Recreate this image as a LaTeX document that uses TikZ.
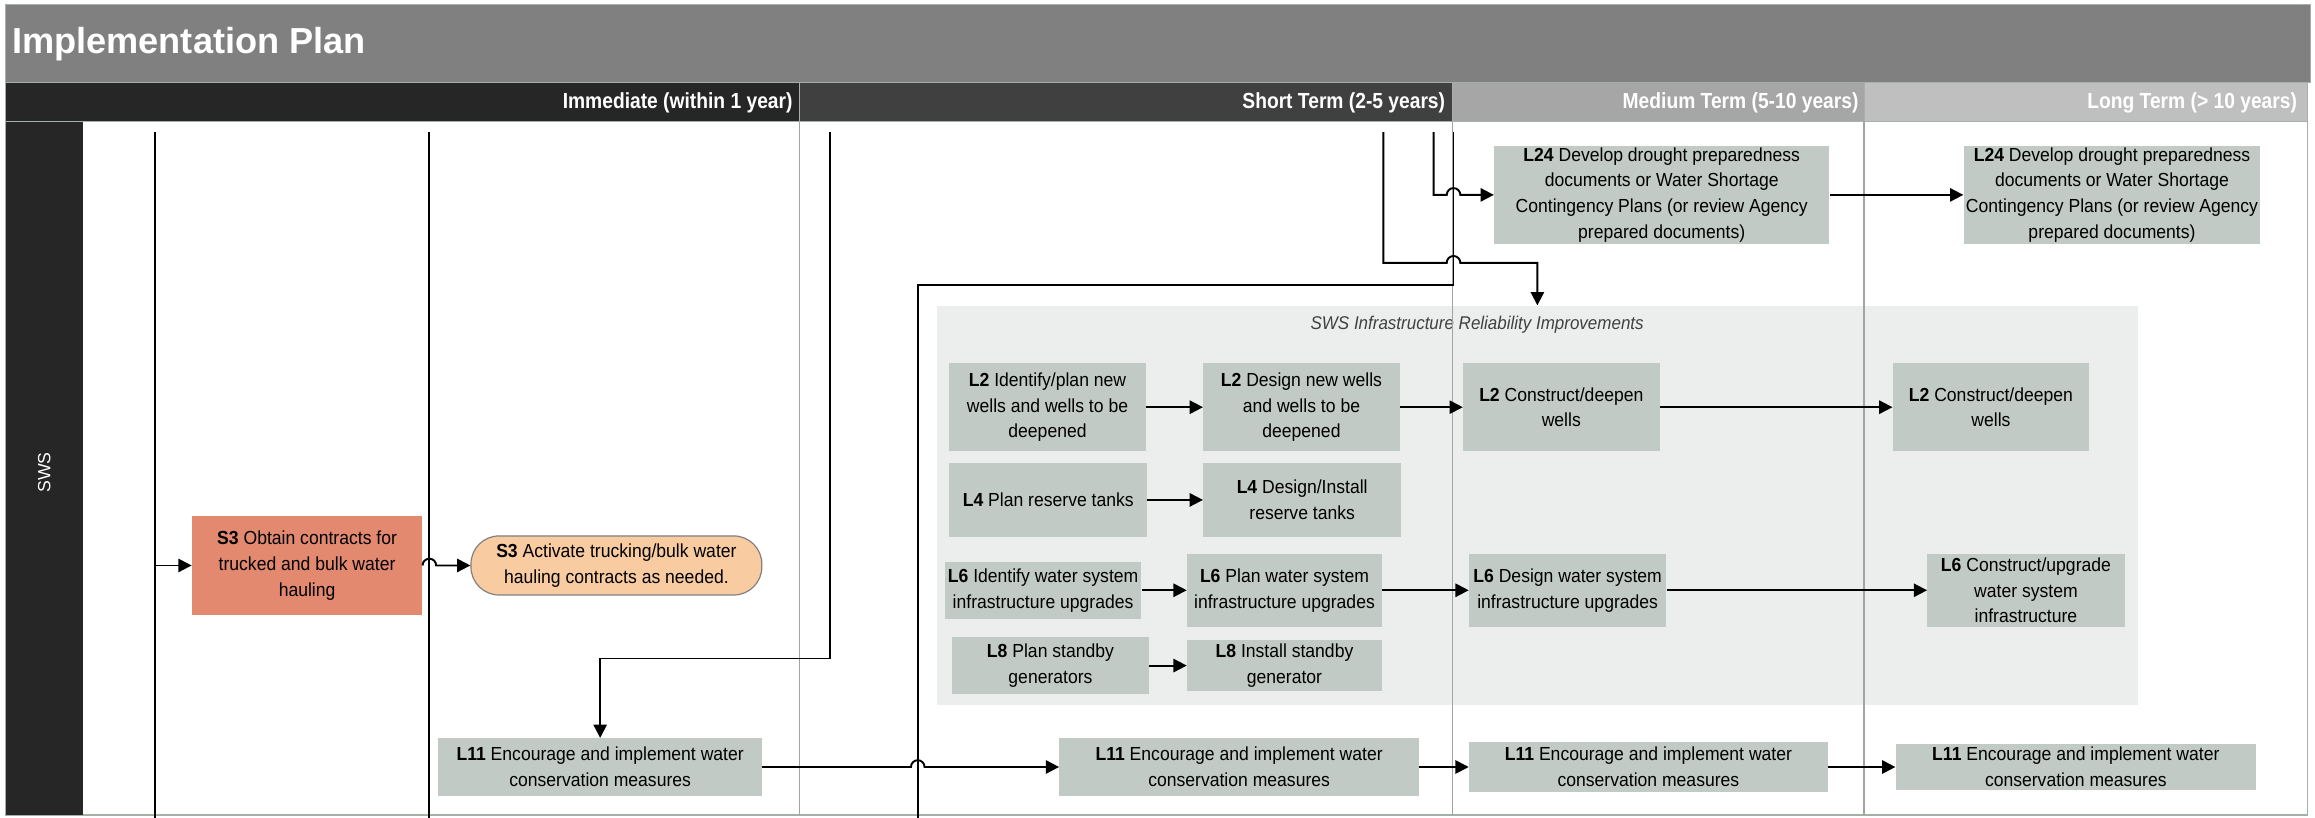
\documentclass[tikz,border=0pt]{standalone}
\usepackage{fontspec}
\setmainfont{Liberation Sans}
\newfontfamily\boxfont{Liberation Sans}[FakeStretch=0.93]
\newfontfamily\hdrfont{Liberation Sans}[FakeStretch=0.88]
\newfontfamily\grpfont{Liberation Sans}[FakeStretch=0.92]
\usetikzlibrary{arrows.meta,calc}
\definecolor{boxc}{RGB}{193,202,197}
\definecolor{grpc}{RGB}{236,238,237}
\definecolor{framec}{RGB}{165,176,169}
\definecolor{divc}{RGB}{160,164,162}
\definecolor{titlec}{RGB}{128,128,128}
\definecolor{hdrA}{RGB}{38,38,38}
\definecolor{hdrB}{RGB}{64,64,64}
\definecolor{hdrC}{RGB}{166,166,166}
\definecolor{hdrD}{RGB}{191,191,191}
\definecolor{salmon}{RGB}{226,137,111}
\definecolor{peach}{RGB}{249,203,160}
\definecolor{grplabel}{RGB}{64,64,64}
\begin{document}
\begin{tikzpicture}[x=1pt,y=-1pt,
  box/.style={fill=boxc, inner sep=1pt, align=center, text=black,
    font=\boxfont\fontsize{12.8}{17.5}\selectfont},
  conn/.style={line width=1.3pt, black},
  arr/.style={conn, -{Triangle[length=9pt,width=9pt]}},
  hdr/.style={anchor=east, text=white, inner sep=0pt,
    font=\hdrfont\bfseries\fontsize{14.8}{16}\selectfont},
  divider/.style={draw=divc, line width=0.8pt},
  cell/.style={draw=framec, line width=0.6pt}]
\useasboundingbox (0,0) rectangle (1568,554);
% title bar
\fill[white] (0,0) rectangle (1568,554);
\draw[cell, fill=titlec] (4,3) rectangle (1565,56);
\node[anchor=base west, inner sep=0pt, text=white,
  font=\bfseries\fontsize{24.5}{28}\selectfont] (title) at (8,36) {Implementation Plan};
% header row
\draw[cell, fill=hdrA] (4,56) rectangle (541.5,82.4);
\draw[cell, fill=hdrB] (541.5,56) rectangle (983.6,82.4);
\draw[cell, fill=hdrC] (983.6,56) rectangle (1262.5,82.4);
\draw[cell, fill=hdrD] (1262.5,56) rectangle (1563,82.4);
\node[hdr] (h1) at (537,69.5) {Immediate (within 1 year)};
\node[hdr] (h2) at (979,69.5) {Short Term (2-5 years)};
\node[hdr] (h3) at (1259,69.5) {Medium Term (5-10 years)};
\node[hdr] (h4) at (1556,69.5) {Long Term (> 10 years)};
% body frame and lane label
\draw[cell] (4,82.4) rectangle (1563,552);
\draw[draw=framec, line width=2pt] (4,552) -- (1563,552);
\fill[hdrA] (4,82.4) rectangle (56,552);
\node[rotate=90, text=white, font=\fontsize{12}{14}\selectfont] (sws) at (30,320) {SWS};
% group
\node[fill=grpc, minimum width=813.4pt, minimum height=270.5pt, inner sep=0pt] (grp) at (1041.3,342.25) {};
\node[font=\grpfont\itshape\fontsize{12.5}{14}\selectfont, text=grplabel, inner sep=0pt] (grplbl) at (1000.5,220) {SWS Infrastructure Reliability Improvements};
% dividers
\draw[divider] (541.5,82.4) -- (541.5,552);
\draw[divider] (983.6,82.4) -- (983.6,552);
\draw[divider] (1262.5,82.4) -- (1262.5,552);
% nodes
\node[box, fill=salmon, minimum width=156pt, minimum height=67pt] (s3a) at (208,383)
  {\textbf{S3} Obtain contracts for\\trucked and bulk water\\hauling};
\node[box, fill=peach, draw=gray, line width=0.8pt, rounded corners=19pt,
  minimum width=197pt, minimum height=40pt] (s3b) at (417.5,383)
  {\textbf{S3} Activate trucking/bulk water\\hauling contracts as needed.};
\node[box, minimum width=219pt, minimum height=39pt] (l11a) at (406.5,519.5)
  {\textbf{L11} Encourage and implement water\\conservation measures};
\node[box, minimum width=243.5pt, minimum height=39pt] (l11b) at (839.3,519.5)
  {\textbf{L11} Encourage and implement water\\conservation measures};
\node[box, minimum width=243pt, minimum height=33.5pt] (l11c) at (1116.5,519.5)
  {\textbf{L11} Encourage and implement water\\conservation measures};
\node[box, minimum width=244pt, minimum height=30.5pt] (l11d) at (1406,519.5)
  {\textbf{L11} Encourage and implement water\\conservation measures};
\node[box, minimum width=227pt, minimum height=66pt] (l24a) at (1125.5,132)
  {\textbf{L24} Develop drought preparedness\\documents or Water Shortage\\Contingency Plans (or review Agency\\prepared documents)};
\node[box, minimum width=201pt, minimum height=66pt] (l24b) at (1430.5,132)
  {\textbf{L24} Develop drought preparedness\\documents or Water Shortage\\Contingency Plans (or review Agency\\prepared documents)};
\node[box, minimum width=133pt, minimum height=59.6pt] (l2a) at (709.5,275.8)
  {\textbf{L2} Identify/plan new\\wells and wells to be\\deepened};
\node[box, minimum width=133pt, minimum height=59.6pt] (l2b) at (881.5,275.8)
  {\textbf{L2} Design new wells\\and wells to be\\deepened};
\node[box, minimum width=133pt, minimum height=59.6pt] (l2c) at (1057.5,275.8)
  {\textbf{L2} Construct/deepen\\wells};
\node[box, minimum width=133pt, minimum height=59.6pt] (l2d) at (1348.5,275.8)
  {\textbf{L2} Construct/deepen\\wells};
\node[box, minimum width=134pt, minimum height=50pt] (l4a) at (710,338.6)
  {\textbf{L4} Plan reserve tanks};
\node[box, minimum width=134pt, minimum height=50pt] (l4b) at (882,338.6)
  {\textbf{L4} Design/Install\\reserve tanks};
\node[box, minimum width=133pt, minimum height=38.6pt] (l6a) at (706.5,399.8)
  {\textbf{L6} Identify water system\\infrastructure upgrades};
\node[box, minimum width=132pt, minimum height=49.6pt] (l6b) at (870,399.8)
  {\textbf{L6} Plan water system\\infrastructure upgrades};
\node[box, minimum width=133.6pt, minimum height=49.6pt] (l6c) at (1061.8,399.8)
  {\textbf{L6} Design water system\\infrastructure upgrades};
\node[box, minimum width=133.5pt, minimum height=49.6pt] (l6d) at (1372.2,399.8)
  {\textbf{L6} Construct/upgrade\\water system\\infrastructure};
\node[box, minimum width=133pt, minimum height=38.5pt] (l8a) at (711.5,450.8)
  {\textbf{L8} Plan standby\\generators};
\node[box, minimum width=132pt, minimum height=35pt] (l8b) at (870,450.8)
  {\textbf{L8} Install standby\\generator};
% connector starts
\coordinate (v1) at (105,89.5);
\coordinate (v1b) at (105,383);
\coordinate (v2) at (290.6,89.5);
\coordinate (v3) at (562,89.5);
\coordinate (v4) at (937,89.5);
\coordinate (v5) at (971,89.5);
\coordinate (v6) at (984.5,89.5);
\coordinate (v6end) at (621.6,554);
% vertical trunks
\draw[conn] (v1) -- (105,554);
\draw[conn] (v2) -- (290.6,554);
\draw[conn] (v6) -- (984.5,193) -- (621.6,193) -- (v6end);
\draw[arr] (v1b) -- (s3a.west);
\draw[arr] (s3a.east) arc[start angle=180,end angle=360,radius=4.6] -- (s3b.west);
\draw[arr] (v3) -- (562,446) -- (406.5,446) -- (l11a.north);
\draw[arr] (v4) -- (937,178) -- (979.9,178) arc[start angle=180,end angle=360,radius=4.6] -- (1041.3,178) -- (grp.north);
\draw[arr] (v5) -- (971,132) -- (979.9,132) arc[start angle=180,end angle=360,radius=4.6] -- (l24a.west);
\draw[arr] (l24a.east) -- (l24b.west);
% L11 chain
\draw[arr] (l11a.east) -- (617,519.5) arc[start angle=180,end angle=360,radius=4.6] -- (l11b.west);
\draw[arr] (l11b.east) -- (l11c.west);
\draw[arr] (l11c.east) -- (l11d.west);
% group arrows
\draw[arr] (l2a.east) -- (l2b.west);
\draw[arr] (l2b.east) -- (l2c.west);
\draw[arr] (l2c.east) -- (l2d.west);
\draw[arr] (l4a.east) -- (l4b.west);
\draw[arr] (l6a.east) -- (l6b.west);
\draw[arr] (l6b.east) -- (l6c.west);
\draw[arr] (l6c.east) -- (l6d.west);
\draw[arr] (l8a.east) -- (l8b.west);
\end{tikzpicture}
\end{document}
